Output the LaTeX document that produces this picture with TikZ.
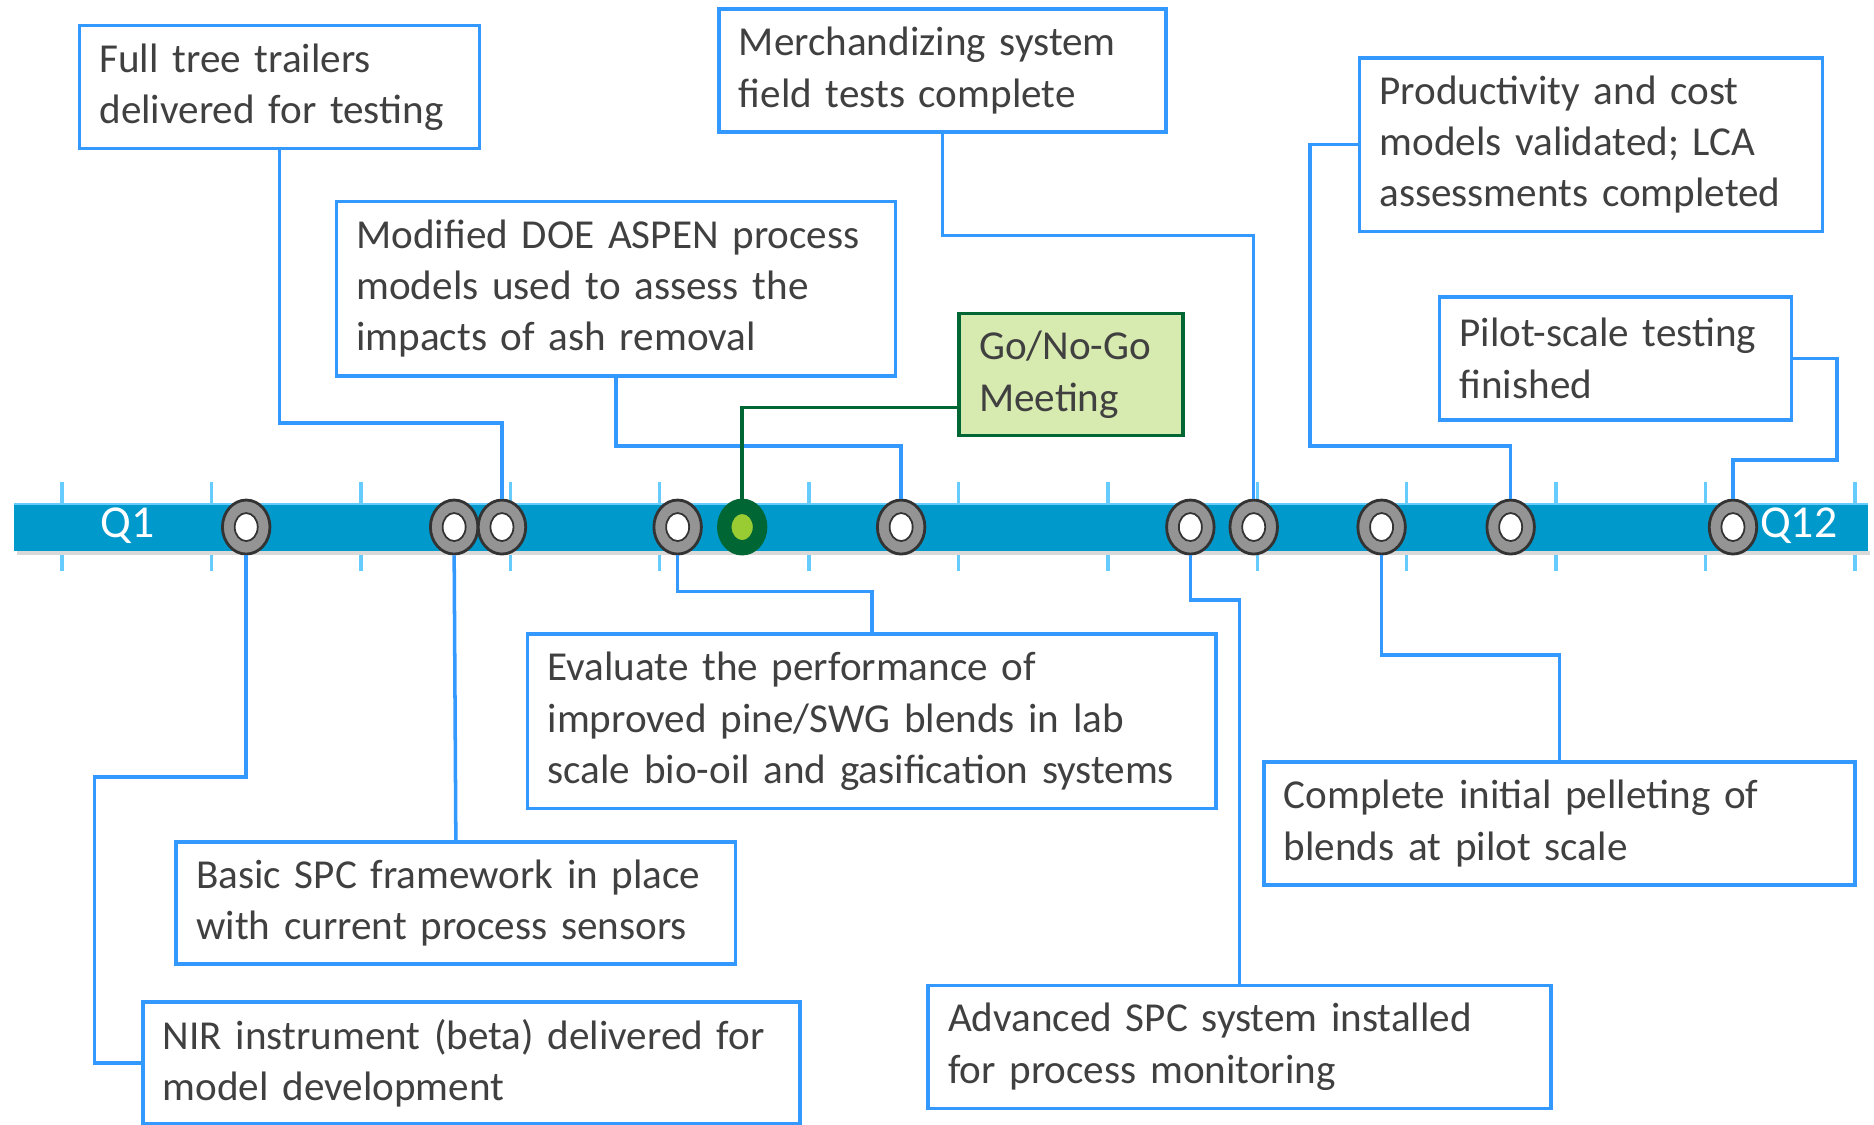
\documentclass[tikz,border=0pt]{standalone}
\usepackage{fontspec}
\setmainfont{Carlito}
\usetikzlibrary{shapes.geometric}

\definecolor{boxblue}{RGB}{51,153,255}
\definecolor{barblue}{RGB}{0,153,204}
\definecolor{tickblue}{RGB}{102,204,255}
\definecolor{textgray}{RGB}{64,64,64}
\definecolor{gofill}{RGB}{215,234,176}
\definecolor{godraw}{RGB}{0,102,51}
\definecolor{golight}{RGB}{153,204,51}

\tikzset{
  milebox/.style={draw=boxblue, line width=1pt, fill=white, anchor=north west,
    align=left, inner xsep=0.2cm, text=textgray,
    font=\fontsize{11.7}{14.6}\selectfont},
  gobox/.style={milebox, draw=godraw, fill=gofill},
  conn/.style={draw=boxblue, line width=1pt},
  goconn/.style={draw=godraw, line width=1pt},
  tick/.style={draw=tickblue, line width=1pt},
  milestone/.style={ellipse, draw=black!80, fill=black!42, line width=0.8pt,
    minimum width=0.475cm, minimum height=0.54cm, inner sep=0pt},
  hole/.style={ellipse, draw=black!80, fill=white, line width=0.5pt,
    minimum width=0.23cm, minimum height=0.28cm, inner sep=0pt},
  quarter/.style={text=white, font=\fontsize{13}{15}\selectfont}
}

\begin{document}
\begin{tikzpicture}[x=0.011952cm, y=-0.011952cm]
  \useasboundingbox (0,0) rectangle (1568,941);

  % timeline
  \foreach \x in {52,177,...,1552}
    \draw[tick] (\x,403) -- (\x,478);
  \fill[black!15] (14,461) rectangle (1565,464);
  \fill[barblue] (12,422) rectangle (1563,461);
  \draw[tickblue, line width=0.6pt] (12,422) -- (1563,422);
  \node[quarter] (q1) at (107,440) {Q1};
  \node[quarter] (q12) at (1505,440) {Q12};

  % milestones
  \foreach \n/\x in {m1/206, m2/380, m3/420, m4/567, m6/754, m7/996,
                     m8/1049, m9/1156, m10/1264, m11/1450} {
    \node[milestone] (\n) at (\x,441) {};
    \node[hole] at (\n) {};
  }
  \node[milestone, draw=godraw, fill=godraw] (m5) at (621,441) {};
  \node[hole, draw=godraw, fill=golight] at (m5) {};

  % boxes above
  \node[milebox, text width=3.60cm, minimum height=1.23cm] (trailers) at (65,20)
    {Full tree trailers\\delivered for testing};
  \node[milebox, text width=5.19cm, minimum height=1.745cm] (doe) at (280,167)
    {Modified DOE ASPEN process\\models used to assess the\\impacts of ash removal};
  \node[milebox, text width=4.07cm, minimum height=1.23cm] (merch) at (600,6)
    {Merchandizing system\\field tests complete};
  \node[milebox, text width=4.23cm, minimum height=1.733cm] (prod) at (1136,47)
    {Productivity and cost\\models validated; LCA\\assessments completed};
  \node[milebox, text width=3.12cm, minimum height=1.23cm] (pilot) at (1203,247)
    {Pilot-scale testing\\finished};
  \node[gobox, text width=1.84cm, minimum height=1.22cm] (gonogo) at (801,261)
    {Go/No-Go\\Meeting};

  % boxes below
  \node[milebox, text width=6.48cm, minimum height=1.745cm] (eval) at (440,529)
    {Evaluate the performance of\\improved pine/SWG blends in lab\\scale bio-oil and gasification systems};
  \node[milebox, text width=5.19cm, minimum height=1.22cm] (basic) at (146,703)
    {Basic SPC framework in place\\with current process sensors};
  \node[milebox, text width=6.17cm, minimum height=1.22cm] (nir) at (118,837)
    {NIR instrument (beta) delivered for\\model development};
  \node[milebox, text width=5.51cm, minimum height=1.23cm] (pellet) at (1056,636)
    {Complete initial pelleting of\\blends at pilot scale};
  \node[milebox, text width=5.83cm, minimum height=1.23cm] (adv) at (775,823)
    {Advanced SPC system installed\\for process monitoring};

  % connectors
  \draw[conn] (trailers.south) -- (trailers.south |- 0,354) -| (m3.north);
  \draw[conn] (doe.south) -- (doe.south |- 0,373) -| (m6.north);
  \draw[conn] (merch.south) -- (merch.south |- 0,197) -| (m8.north);
  \draw[conn] (prod.west) -| (1096,373) -| (m10.north);
  \draw[conn] (pilot.east) -| (1537,385) -| (m11.north);
  \draw[goconn] (gonogo.west |- 0,341) -| (m5.north);
  \draw[conn] (eval.north) -- (eval.north |- 0,495) -| (m4.south);
  \draw[conn] (basic.north) -- (m2.south);
  \draw[conn] (nir.west) -| (79,650) -| (m1.south);
  \draw[conn] (pellet.north) -- (pellet.north |- 0,548) -| (m9.south);
  \draw[conn] (adv.north) -- (adv.north |- 0,502) -| (m7.south);
\end{tikzpicture}
\end{document}
